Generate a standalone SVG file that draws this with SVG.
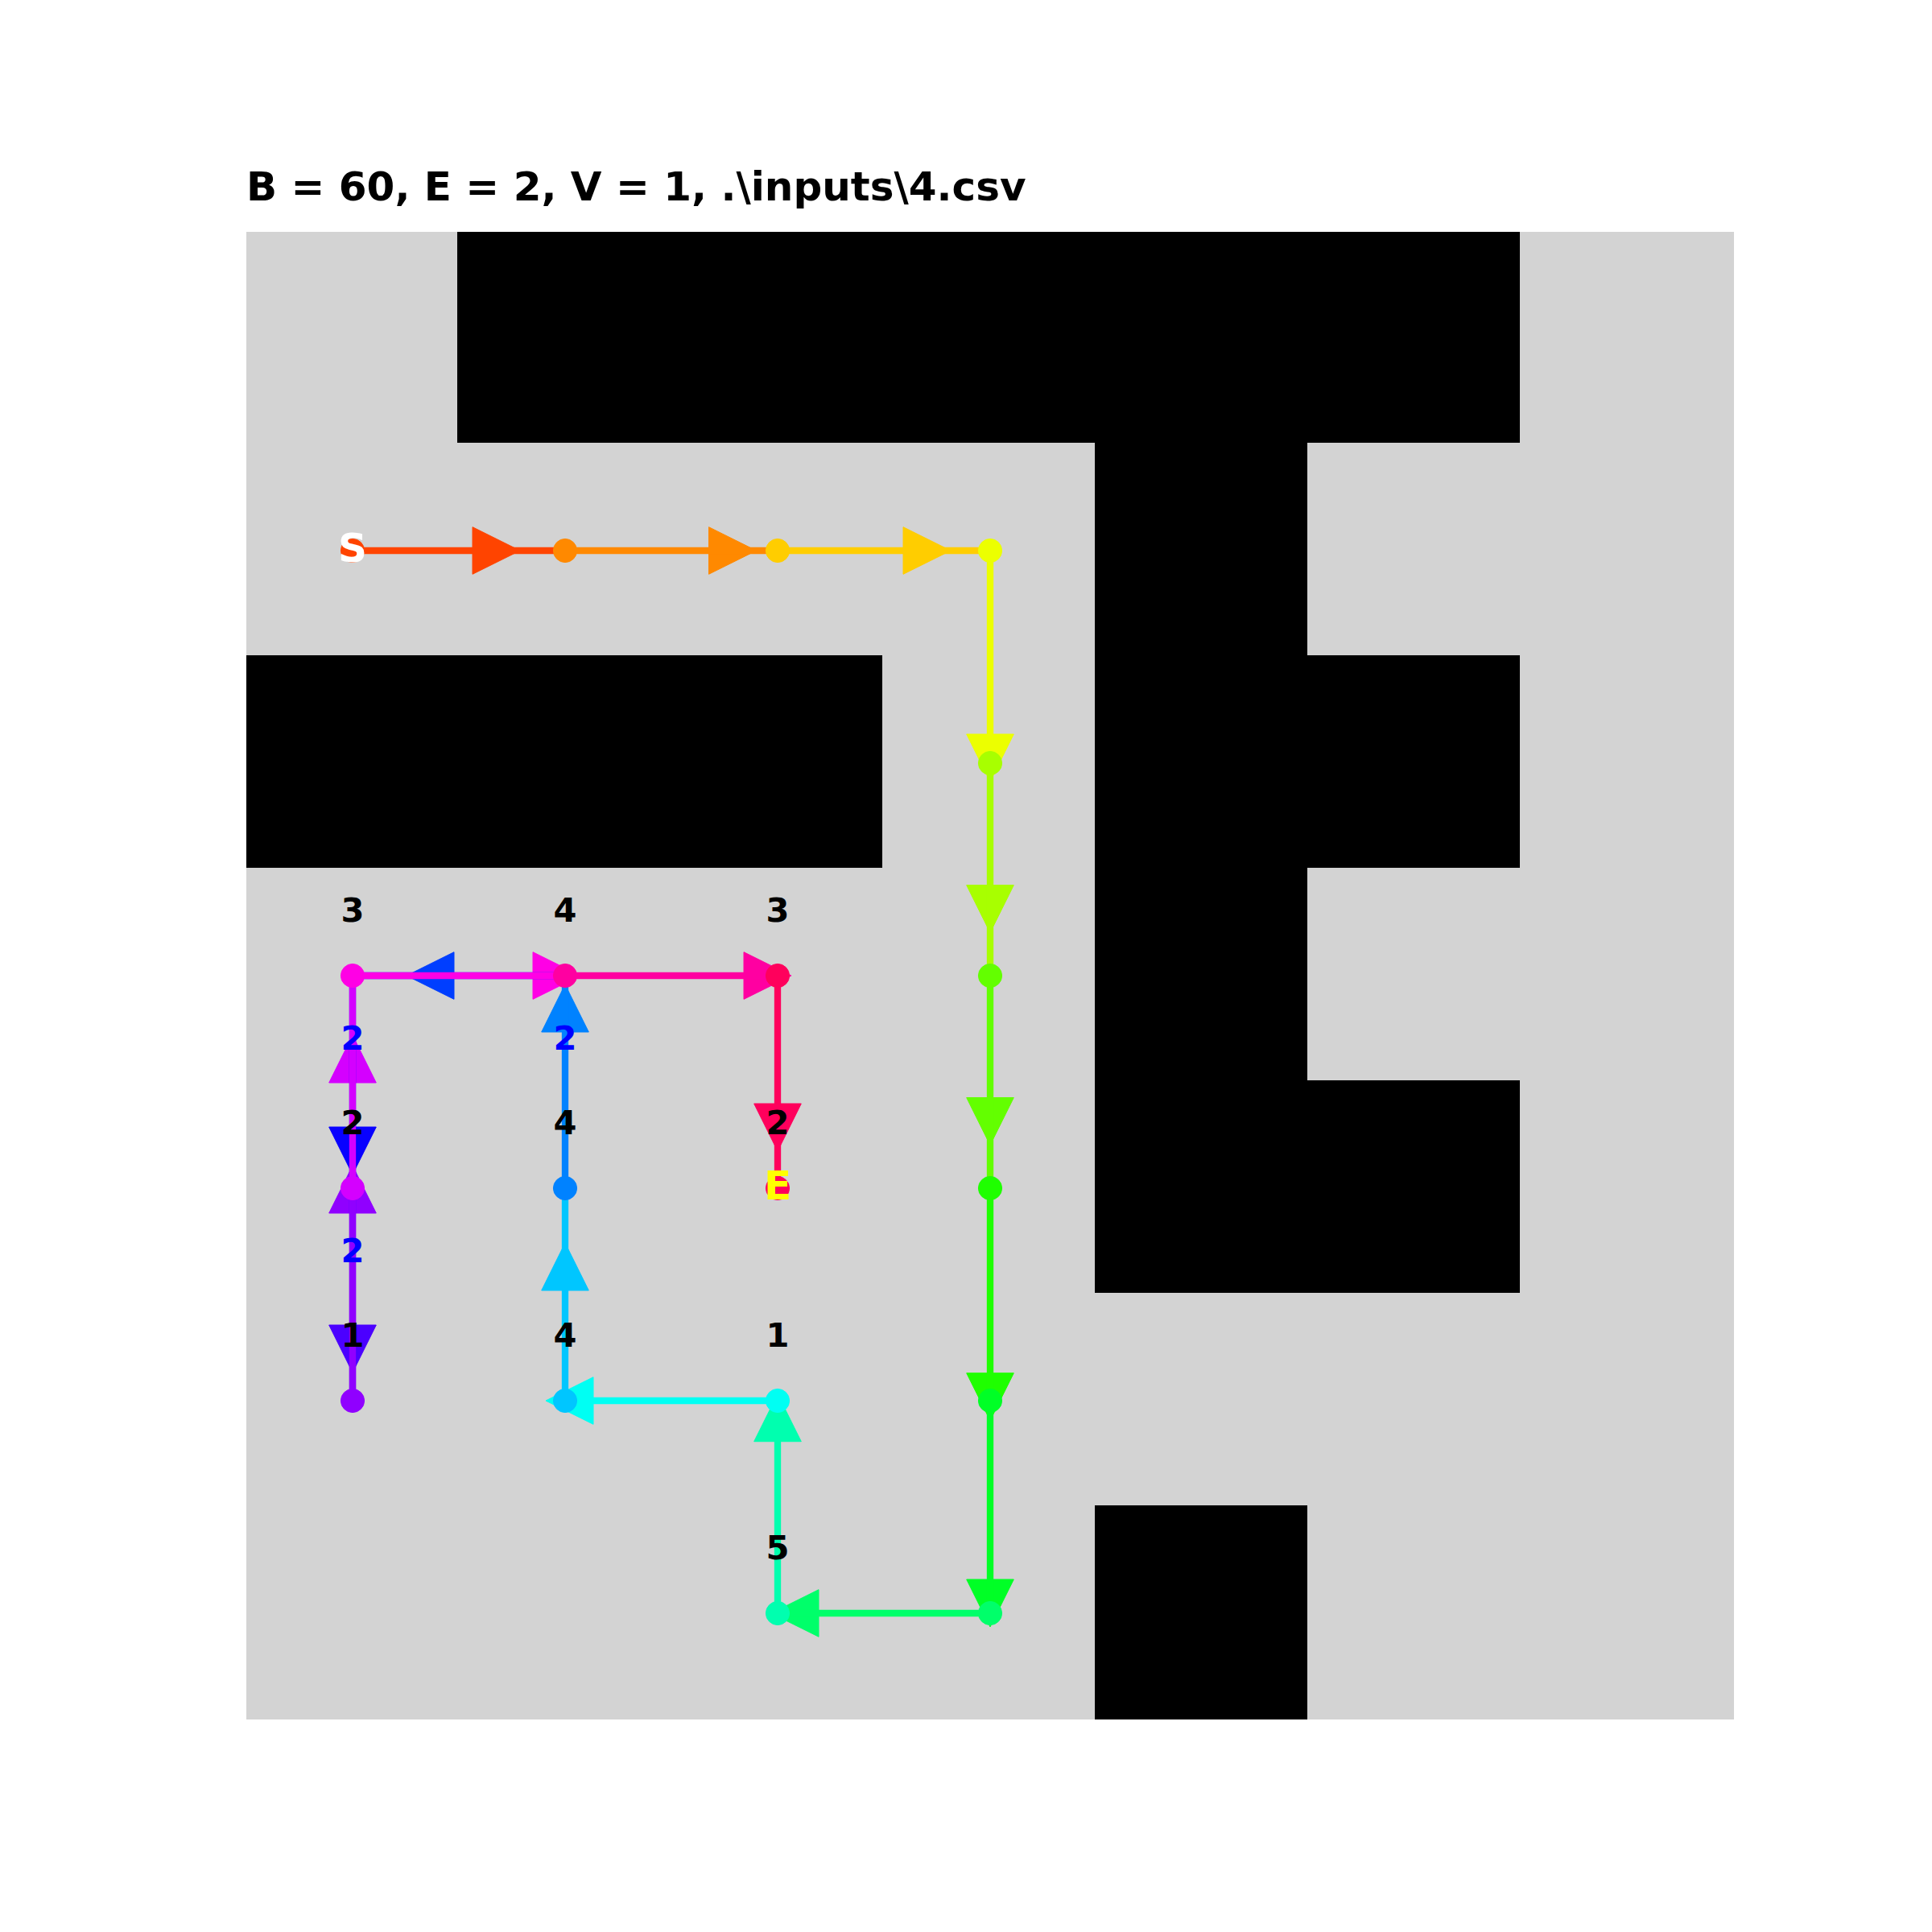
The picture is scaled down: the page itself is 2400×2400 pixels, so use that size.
<svg xmlns="http://www.w3.org/2000/svg" width="2400" height="2400" viewBox="0 0 2400 2400">
<style>
text{font-family:"DejaVu Sans","Liberation Sans",sans-serif;font-weight:bold;}
.title{font-size:50px;fill:#000;}
.num{font-size:41.67px;fill:#000;text-anchor:middle;}
.blue{font-size:41.67px;fill:#0000ff;text-anchor:middle;}
.se{font-size:50px;text-anchor:middle;}
.free{fill:#d3d3d3;}
.wall{fill:#000;}
line{stroke-width:8.33;stroke-linecap:square;}
.c1{fill:#ff4400;stroke:#ff4400}.c2{fill:#ff8900;stroke:#ff8900}.c3{fill:#ffcd00;stroke:#ffcd00}
.c4{fill:#ecff00;stroke:#ecff00}.c5{fill:#a8ff00;stroke:#a8ff00}.c6{fill:#63ff00;stroke:#63ff00}
.c7{fill:#1fff00;stroke:#1fff00}.c8{fill:#00ff26;stroke:#00ff26}.c9{fill:#00ff6a;stroke:#00ff6a}
.c10{fill:#00ffaf;stroke:#00ffaf}.c11{fill:#00fff3;stroke:#00fff3}.c12{fill:#00c6ff;stroke:#00c6ff}
.c13{fill:#0082ff;stroke:#0082ff}.c14{fill:#003eff;stroke:#003eff}.c15{fill:#0801ff;stroke:#0801ff}
.c16{fill:#4b00ff;stroke:#4b00ff}.c17{fill:#9000ff;stroke:#9000ff}.c18{fill:#d400ff;stroke:#d400ff}
.c19{fill:#ff00e5;stroke:#ff00e5}.c20{fill:#ff00a1;stroke:#ff00a1}.c21{fill:#ff005c;stroke:#ff005c}
polygon{stroke:none;}
circle{stroke:none;}
</style>
<rect x="0" y="0" width="2400" height="2400" fill="#ffffff"/>
<text class="title" x="306" y="249">B = 60, E = 2, V = 1, .\inputs\4.csv</text>
<g id="maze">
<rect class="free" x="306" y="288" width="1848" height="1848"/>
<rect class="wall" x="568" y="288" width="1320" height="262"/>
<rect class="wall" x="1360" y="550" width="264" height="264"/>
<rect class="wall" x="306" y="814" width="790" height="264"/>
<rect class="wall" x="1360" y="814" width="528" height="264"/>
<rect class="wall" x="1360" y="1078" width="264" height="264"/>
<rect class="wall" x="1360" y="1342" width="528" height="264"/>
<rect class="wall" x="1360" y="1870" width="264" height="266"/>
</g>
<g id="connectors">
<g id="arrowheads">
<polygon class="c1" points="587,654.7 646,684 587,713.3"/>
<polygon class="c2" points="880.5,654.7 939.5,684 880.5,713.3"/>
<polygon class="c3" points="1122,654.7 1181,684 1122,713.3"/>
<polygon class="c4" points="1200.7,912 1259.3,912 1230,971"/>
<polygon class="c5" points="1200.7,1099.6 1259.3,1099.6 1230,1158.6"/>
<polygon class="c6" points="1200.7,1363.5 1259.3,1363.5 1230,1422.5"/>
<polygon class="c7" points="1200.7,1705.7 1259.3,1705.7 1230,1764.7"/>
<polygon class="c8" points="1200.7,1962 1259.3,1962 1230,2021"/>
<polygon class="c9" points="1017,1974.7 1017,2033.3 958,2004"/>
<polygon class="c10" points="936.7,1790.7 995.3,1790.7 966,1731.7"/>
<polygon class="c11" points="737,1710.7 737,1769.3 678,1740"/>
<polygon class="c12" points="672.7,1603 731.3,1603 702,1544"/>
<polygon class="c13" points="672.7,1282 731.3,1282 702,1223"/>
<polygon class="c14" points="564,1182.7 564,1241.3 505,1212"/>
<polygon class="c15" points="408.7,1400 467.3,1400 438,1459"/>
<polygon class="c16" points="408.7,1646 467.3,1646 438,1705"/>
<polygon class="c17" points="408.7,1507 467.3,1507 438,1448"/>
<polygon class="c18" points="408.7,1345 467.3,1345 438,1286"/>
<polygon class="c19" points="662,1182.7 721,1212 662,1241.3"/>
<polygon class="c20" points="924,1182.7 983,1212 924,1241.3"/>
<polygon class="c21" points="936.7,1371 995.3,1371 966,1430"/>
</g>
<g id="paths">
<line class="c1" x1="438" y1="684" x2="702" y2="684"/>
<line class="c2" x1="702" y1="684" x2="966" y2="684"/>
<line class="c3" x1="966" y1="684" x2="1230" y2="684"/>
<line class="c4" x1="1230" y1="684" x2="1230" y2="948"/>
<line class="c5" x1="1230" y1="948" x2="1230" y2="1212"/>
<line class="c6" x1="1230" y1="1212" x2="1230" y2="1476"/>
<line class="c7" x1="1230" y1="1476" x2="1230" y2="1740"/>
<line class="c8" x1="1230" y1="1740" x2="1230" y2="2004"/>
<line class="c9" x1="1230" y1="2004" x2="966" y2="2004"/>
<line class="c10" x1="966" y1="2004" x2="966" y2="1740"/>
<line class="c11" x1="966" y1="1740" x2="702" y2="1740"/>
<line class="c12" x1="702" y1="1740" x2="702" y2="1476"/>
<line class="c13" x1="702" y1="1476" x2="702" y2="1212"/>
<line class="c14" x1="702" y1="1212" x2="438" y2="1212"/>
<line class="c15" x1="438" y1="1212" x2="438" y2="1476"/>
<line class="c16" x1="438" y1="1476" x2="438" y2="1740"/>
<line class="c17" x1="438" y1="1740" x2="438" y2="1476"/>
<line class="c18" x1="438" y1="1476" x2="438" y2="1212"/>
<line class="c19" x1="438" y1="1212" x2="702" y2="1212"/>
<line class="c20" x1="702" y1="1212" x2="966" y2="1212"/>
<line class="c21" x1="966" y1="1212" x2="966" y2="1476"/>
</g>
</g>
<g id="node-c0r1"><circle class="c1" cx="438" cy="684" r="14.6"/></g>
<g id="node-c1r1"><circle class="c2" cx="702" cy="684" r="14.6"/></g>
<g id="node-c2r1"><circle class="c3" cx="966" cy="684" r="14.6"/></g>
<g id="node-c3r1"><circle class="c4" cx="1230" cy="684" r="14.6"/></g>
<g id="node-c3r2"><circle class="c5" cx="1230" cy="948" r="14.6"/></g>
<g id="node-c3r3"><circle class="c6" cx="1230" cy="1212" r="14.6"/></g>
<g id="node-c3r4"><circle class="c7" cx="1230" cy="1476" r="14.6"/></g>
<g id="node-c3r5"><circle class="c8" cx="1230" cy="1740" r="14.6"/></g>
<g id="node-c3r6"><circle class="c9" cx="1230" cy="2004" r="14.6"/></g>
<g id="node-c2r6"><circle class="c10" cx="966" cy="2004" r="14.6"/></g>
<g id="node-c2r5"><circle class="c11" cx="966" cy="1740" r="14.6"/></g>
<g id="node-c1r5"><circle class="c12" cx="702" cy="1740" r="14.6"/></g>
<g id="node-c1r4"><circle class="c13" cx="702" cy="1476" r="14.6"/></g>
<g id="node-c0r5"><circle class="c17" cx="438" cy="1740" r="14.6"/></g>
<g id="node-c0r4"><circle class="c18" cx="438" cy="1476" r="14.6"/></g>
<g id="node-c0r3"><circle class="c19" cx="438" cy="1212" r="14.6"/></g>
<g id="node-c1r3"><circle class="c20" cx="702" cy="1212" r="14.6"/></g>
<g id="node-c2r3"><circle class="c21" cx="966" cy="1212" r="14.6"/></g>
<g id="node-c2r4"><circle class="c21" cx="966" cy="1476" r="14.6"/></g>
<g id="labels">
<text class="num" x="438" y="1145">3</text>
<text class="num" x="702" y="1145">4</text>
<text class="num" x="966" y="1145">3</text>
<text class="blue" x="438" y="1303.5">2</text>
<text class="blue" x="702" y="1303.5">2</text>
<text class="num" x="438" y="1409">2</text>
<text class="num" x="702" y="1409">4</text>
<text class="num" x="966" y="1409">2</text>
<text class="blue" x="438" y="1567.5">2</text>
<text class="num" x="438" y="1673">1</text>
<text class="num" x="702" y="1673">4</text>
<text class="num" x="966" y="1673">1</text>
<text class="num" x="966" y="1937">5</text>
<text class="se" x="438" y="697.5" fill="#ffffff">S</text>
<text class="se" x="966" y="1489.5" fill="#ffff00">E</text>
</g>
</svg>
